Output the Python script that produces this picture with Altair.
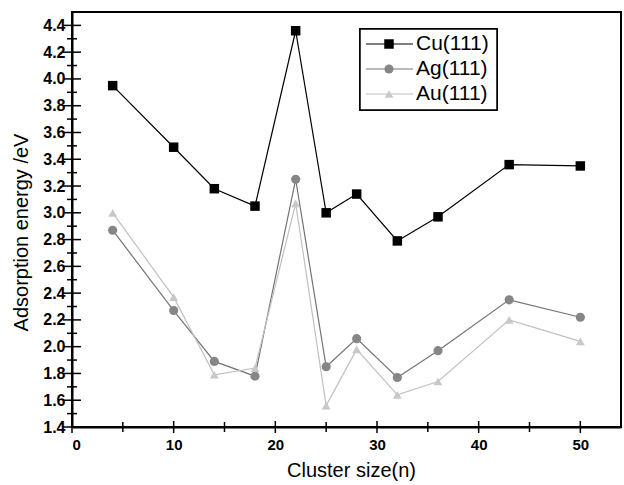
import altair as alt
import pandas as pd

# ---- data ----
cluster_size = [4, 10, 14, 18, 22, 25, 28, 32, 36, 43, 50]
cu_energy = [3.95, 3.49, 3.18, 3.05, 4.36, 3.00, 3.14, 2.79, 2.97, 3.36, 3.35]
ag_energy = [2.87, 2.27, 1.89, 1.78, 3.25, 1.85, 2.06, 1.77, 1.97, 2.35, 2.22]
au_energy = [3.00, 2.37, 1.79, 1.84, 3.07, 1.56, 1.98, 1.64, 1.74, 2.20, 2.04]
series_names = ["Cu(111)", "Ag(111)", "Au(111)"]

x_major = [0, 10, 20, 30, 40, 50]
x_minor = [5, 15, 25, 35, 45]
y_major = [1.4, 1.6, 1.8, 2.0, 2.2, 2.4, 2.6, 2.8, 3.0, 3.2, 3.4, 3.6, 3.8, 4.0, 4.2, 4.4]
y_minor = [1.5, 1.7, 1.9, 2.1, 2.3, 2.5, 2.7, 2.9, 3.1, 3.3, 3.5, 3.7, 3.9, 4.1, 4.3]

rows = []
for name, vals in zip(series_names, [cu_energy, ag_energy, au_energy]):
    for xv, yv in zip(cluster_size, vals):
        rows.append({"series": name, "n": xv, "E": yv})
df = pd.DataFrame(rows)
legend_df = pd.DataFrame({"series": series_names, "row": list(range(len(series_names)))})

W, H = 549, 415
FONT = "Liberation Sans"

x_scale = alt.Scale(domain=[0, 54], nice=False, zero=False)
y_scale = alt.Scale(domain=[1.4, 4.5], nice=False, zero=False)

stroke_scale = alt.Scale(domain=series_names, range=["#000000", "#747474", "#c0c0c0"])
fill_scale = alt.Scale(domain=series_names, range=["#000000", "#868686", "#c8c8c8"])
shape_scale = alt.Scale(domain=series_names, range=["square", "circle", "triangle-up"])
size_scale = alt.Scale(domain=series_names, range=[90, 78, 160])

x_axis = alt.Axis(values=x_major, title="Cluster size(n)", grid=False,
                  ticks=False, tickSize=0, labelPadding=10, labelOverlap=False,
                  labelFontWeight="bold", labelFontSize=15,
                  titleFontSize=20, titleFontWeight="normal",
                  titleX=279, titleY=43, titleBaseline="middle")
y_axis = alt.Axis(values=y_major, format=".1f", title="Adsorption energy /eV",
                  grid=False, ticks=False, tickSize=0, labelPadding=7,
                  labelOverlap=False, labelBound=False,
                  labelFontWeight="bold", labelFontSize=16,
                  titleFontSize=20, titleFontWeight="normal",
                  titleX=-51, titleY=220, titleBaseline="middle",
                  titleAngle=-90, titleAlign="center")

def X(field):
    return alt.X(field, scale=x_scale, axis=x_axis)

def Y(field):
    return alt.Y(field, scale=y_scale, axis=y_axis)

base = alt.Chart(df)

lines = base.mark_line(strokeWidth=1.2).encode(
    x=X("n:Q"), y=Y("E:Q"),
    stroke=alt.Stroke("series:N", scale=stroke_scale, legend=None),
    detail="series:N",
)

points = base.mark_point(filled=True, opacity=1, strokeWidth=0).encode(
    x=X("n:Q"), y=Y("E:Q"),
    fill=alt.Fill("series:N", scale=fill_scale, legend=None),
    shape=alt.Shape("series:N", scale=shape_scale, legend=None),
    size=alt.Size("series:N", scale=size_scale, legend=None),
)

# inward ticks
yt_major = alt.Chart(pd.DataFrame({"E": y_major})).mark_tick(
    color="black", thickness=1.5, size=18, orient="horizontal", opacity=1).encode(
    y=Y("E:Q"), x=alt.value(0))
yt_minor = alt.Chart(pd.DataFrame({"E": y_minor})).mark_tick(
    color="black", thickness=1.5, size=10, orient="horizontal", opacity=1).encode(
    y=Y("E:Q"), x=alt.value(0))
xt_major = alt.Chart(pd.DataFrame({"n": x_major})).mark_tick(
    color="black", thickness=1.5, size=12, orient="vertical", opacity=1).encode(
    x=X("n:Q"), y=alt.value(H))
xt_minor = alt.Chart(pd.DataFrame({"n": x_minor})).mark_tick(
    color="black", thickness=1.5, size=10, orient="vertical", opacity=1).encode(
    x=X("n:Q"), y=alt.value(H))

main = alt.layer(lines, points, yt_major, yt_minor, xt_major, xt_minor)

# legend box
leg_y = alt.Y("row:Q", scale=alt.Scale(domain=[0, 2], range=[32, 82]), axis=None)
leg_box = alt.Chart(legend_df).mark_rect(fill="white", stroke="black", strokeWidth=1.5).encode(
    x=alt.value(288), x2=alt.value(425), y=alt.value(17), y2=alt.value(98))
leg_line = alt.Chart(legend_df).mark_rule(strokeWidth=1.2).encode(
    y=leg_y, x=alt.value(294), x2=alt.value(341),
    stroke=alt.Stroke("series:N", scale=stroke_scale, legend=None))
leg_pt = alt.Chart(legend_df).mark_point(filled=True, opacity=1, strokeWidth=0).encode(
    y=leg_y, x=alt.value(317),
    fill=alt.Fill("series:N", scale=fill_scale, legend=None),
    shape=alt.Shape("series:N", scale=shape_scale, legend=None),
    size=alt.Size("series:N", scale=size_scale, legend=None))
leg_txt = alt.Chart(legend_df).mark_text(align="left", baseline="middle", fontSize=21,
                                         font=FONT, color="black").encode(
    y=leg_y, x=alt.value(344), text="series:N")
legend = alt.layer(leg_box, leg_line, leg_pt, leg_txt)

chart = alt.layer(main, legend).resolve_scale(y="independent").properties(
    width=W, height=H,
    autosize=alt.AutoSizeParams(type="none"),
    padding={"left": 72, "top": 12, "right": 3, "bottom": 58},
    background="white",
).configure_view(
    stroke="black", strokeWidth=2
).configure_axis(
    domainColor="black", domainWidth=2, labelColor="black", titleColor="black",
    labelFont=FONT, titleFont=FONT,
).configure_text(font=FONT)

chart.save("out.html", embed_options={"renderer": "svg", "actions": False})
